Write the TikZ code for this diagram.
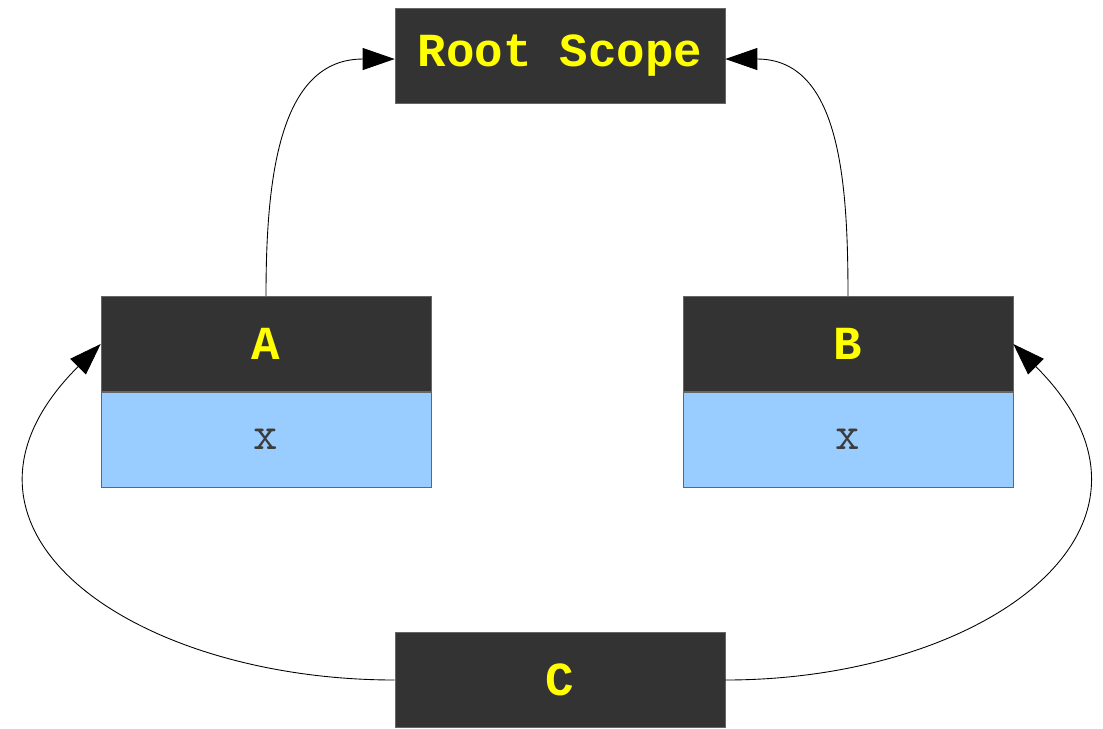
\documentclass[tikz,border=0pt]{standalone}
\usepackage{fontspec}
\newfontfamily\scopefont{Liberation Mono}
\usepackage{tikz}
\usetikzlibrary{arrows.meta,positioning}
\definecolor{ScopeBg}{RGB}{51,51,51}
\definecolor{ScopeTxt}{RGB}{255,255,0}
\definecolor{VarBg}{RGB}{153,204,255}
\definecolor{VarTxt}{RGB}{60,60,60}
\tikzset{
  scopebox/.style={rectangle,draw=black!60,line width=0.4pt,fill=ScopeBg,
                   minimum width=6.6cm,minimum height=1.9cm,inner sep=0pt,
                   text=ScopeTxt,font=\fontsize{27}{30}\selectfont\scopefont\bfseries},
  varbox/.style={rectangle,draw=black!60,line width=0.4pt,fill=VarBg,
                 minimum width=6.6cm,minimum height=1.9cm,inner sep=0pt,
                 text=VarTxt,font=\fontsize{27}{30}\selectfont\ttfamily},
  parent/.style={-{Triangle[length=6.4mm,width=4.4mm]},line width=0.5pt,black},
}

\begin{document}
\begin{tikzpicture}[x=0.02cm,y=-0.02cm]
  \useasboundingbox (0,0) rectangle (1103,728);
  \node[scopebox] (root) at (560,55.5) {Root Scope};
  \node[scopebox] (A) at (266,344) {A};
  \node[varbox,below=0pt of A] (Ax) {x};
  \node[scopebox] (B) at (848,344) {B};
  \node[varbox,below=0pt of B] (Bx) {x};
  \node[scopebox] (C) at (560,680) {C};
  \draw[parent] (A.north) to[out=90,in=180,looseness=1.1] ([yshift=-2]root.west);
  \draw[parent] (B.north) to[out=90,in=0,looseness=1.1] ([yshift=-2]root.east);
  \draw[parent] (C.west) to[out=180,in=225,looseness=1.5] (A.west);
  \draw[parent] (C.east) to[out=0,in=315,looseness=1.5] (B.east);
\end{tikzpicture}
\end{document}
